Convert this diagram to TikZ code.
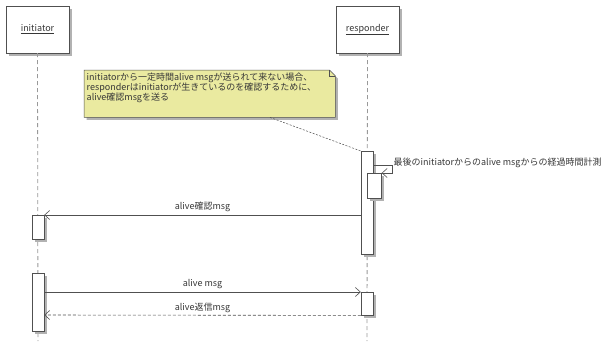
\documentclass[tikz,border=0pt]{standalone}
\usepackage{fontspec}
\setmainfont{Noto Sans CJK JP}
\usetikzlibrary{arrows.meta,shadows}
\definecolor{notefill}{RGB}{234,234,160}
\definecolor{linecol}{RGB}{80,80,80}
\definecolor{txtcol}{RGB}{55,55,55}
\begin{document}
\begin{tikzpicture}[x=1pt,y=-1pt,
  shd/.style={drop shadow={shadow xshift=2.5pt,shadow yshift=-2.5pt,fill=black!30,opacity=1}},
  obj/.style={draw=linecol,fill=white,minimum width=63pt,minimum height=47pt,inner sep=0pt,
    font=\fontsize{9}{10}\selectfont,text=txtcol,shd},
  act/.style={draw=linecol,fill=white,minimum width=12pt,inner sep=0pt,anchor=north,shd},
  life/.style={draw=black!40,dash pattern=on 4pt off 3pt,line width=0.8pt},
  msg/.style={draw=linecol,line width=0.6pt,-{Straight Barb[length=5pt,width=9pt]}},
  ret/.style={msg,dash pattern=on 3pt off 2pt},
  lbl/.style={font=\fontsize{9}{10}\selectfont,text=txtcol,inner sep=1.5pt},
  notelink/.style={draw=linecol,line width=0.5pt,dash pattern=on 2pt off 1.5pt}
]
\fill[white] (0,0) rectangle (608,341);
\useasboundingbox (0,0) rectangle (608,341);

% objects
\node[obj] (ini) at (37.5,29.5) {\underline{initiator}};
\node[obj] (res) at (367.5,29.5) {\underline{responder}};

% lifelines
\coordinate (iniend) at (38,341);
\coordinate (resend) at (367,341);
\draw[life] (ini.south) -- (iniend);
\draw[life] (res.south) -- (resend);

% note
\node[minimum width=251pt,minimum height=47pt,inner sep=0pt,anchor=north west] (note) at (84,70) {};
\fill[black!30] ([shift={(2.5pt,-2.5pt)}]note.north west) -- ([shift={(-3.5pt,-2.5pt)}]note.north east)
  -- ([shift={(2.5pt,-8.5pt)}]note.north east) -- ([shift={(2.5pt,-2.5pt)}]note.south east)
  -- ([shift={(2.5pt,-2.5pt)}]note.south west) -- cycle;
\draw[linecol,fill=notefill,line width=0.5pt] (note.north west) -- ([xshift=-6pt]note.north east)
  -- ([yshift=-6pt]note.north east) -- (note.south east) -- (note.south west) -- cycle;
\draw[linecol,line width=0.5pt] ([xshift=-6pt]note.north east) -- ([xshift=-6pt,yshift=-6pt]note.north east)
  -- ([yshift=-6pt]note.north east);
\node[lbl,align=left,anchor=north west,inner sep=0pt] (notetext) at (86.5,72.5)
  {initiatorから一定時間alive msgが送られて来ない場合、\\
   responderはinitiatorが生きているのを確認するために、\\
   alive確認msgを送る};

% activations
\node[act,minimum height=103pt] (ra1) at (367,151) {};
\node[act,minimum width=14pt,minimum height=25pt] (ra2) at (374.5,173) {};
\node[act,minimum height=24pt] (ia1) at (38,215) {};
\node[act,minimum height=58pt] (ia2) at (38,273) {};
\node[act,minimum height=23pt] (ra3) at (367,292) {};

\draw[notelink] ([xshift=186pt]note.south west) -- (ra1.north west);

% self call
\draw[msg] ([yshift=-14pt]ra1.north east) -- ++(19,0) |- (ra2.north east);
\node[lbl,anchor=west] (selflbl) at (392,163) {最後のinitiatorからのalive msgからの経過時間計測};

% messages
\draw[msg] ([yshift=-64pt]ra1.north west) -- node[lbl,above=1pt] (m1) {alive確認msg} (ia1.north east);
\draw[msg] ([yshift=-19pt]ia2.north east) -- node[lbl,above=1pt] (m2) {alive msg} (ra3.north west);
\draw[ret] (ra3.south west) -- node[lbl,above=1pt] (m3) {alive返信msg} ([yshift=-42pt]ia2.north east);
\end{tikzpicture}
\end{document}
